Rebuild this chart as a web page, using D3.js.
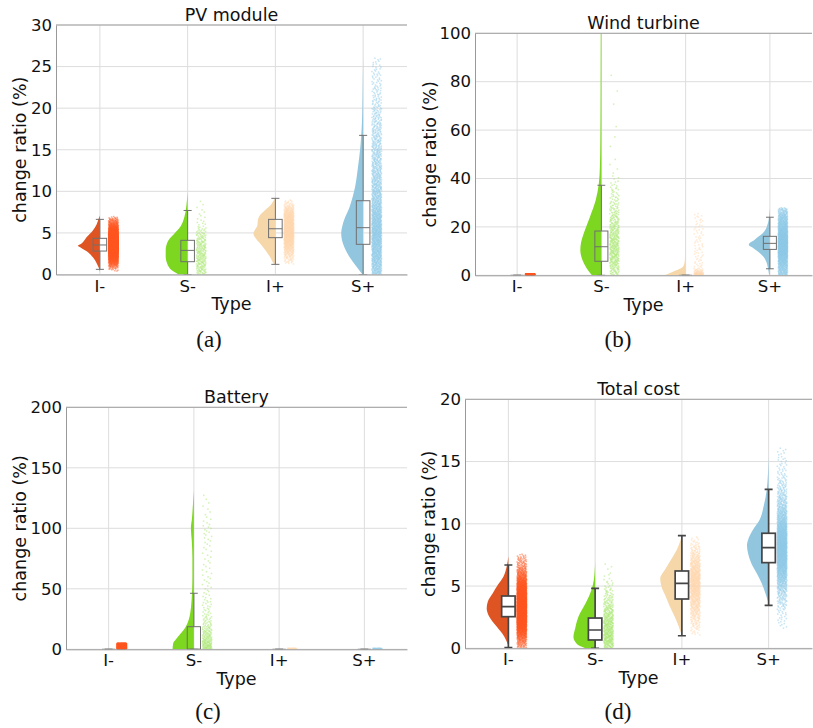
<!DOCTYPE html>
<html>
<head>
<meta charset="utf-8">
<script src="https://cdn.jsdelivr.net/npm/d3@7"></script>
<style>
  body { margin: 0; background: #fff; }
  svg { display: block; }
  text { font-family: "DejaVu Sans", sans-serif; fill: #111; }
</style>
</head>
<body>
<svg id="fig" width="813" height="728"></svg>
<script>
// Scenario types on the x axis
const types = ["I-", "S-", "I+", "S+"];
const violinColors = ["#DE5523", "#7DD620", "#F5D7AA", "#92C6DE"];
const rainColors = ["#FF5722", "#A6E86A", "#FFD7AE", "#8FCCEA"];

// Density profiles: [change ratio (%), relative half-width]
// Box stats: [q1, median, q3, lower whisker, upper whisker]

// (a) PV module
const pvTicks = [0, 5, 10, 15, 20, 25, 30];
const pvViolin = [
  [[0.3,0],[0.8,0.05],[1.2,0.12],[2.0,0.3],[2.8,0.6],[3.2,0.85],[3.45,1.0],[3.7,0.85],[4.5,0.6],[5.3,0.32],[6.0,0.15],[6.6,0.07],[7.1,0]],
  [[0,0.42],[0.5,0.72],[1.3,0.93],[2.1,1.0],[3.0,1.0],[3.5,0.97],[4.1,0.88],[4.6,0.72],[5.0,0.58],[5.5,0.4],[6.2,0.24],[7.0,0.14],[8.0,0.07],[9.0,0.03],[9.8,0]],
  [[1.1,0],[1.4,0.1],[2.0,0.22],[2.8,0.42],[3.5,0.62],[4.3,0.88],[4.9,1.0],[5.4,0.92],[5.9,0.82],[6.5,0.8],[7.2,0.68],[7.8,0.45],[8.4,0.2],[8.9,0.08],[9.2,0]],
  [[0,0.03],[0.9,0.29],[2.1,0.62],[3.3,0.86],[4.2,0.97],[5.0,1.0],[5.8,0.95],[6.6,0.86],[8.1,0.62],[9.5,0.46],[10.6,0.36],[12,0.28],[13.4,0.21],[15,0.14],[16.6,0.09],[18.5,0.05],[20.6,0.03],[23.5,0.015],[26.3,0]]
];
const pvBox = [[2.82, 3.55, 4.35, 0.62, 6.63], [1.54, 2.9, 4.11, 0, 7.7], [4.43, 5.5, 6.63, 1.22, 9.16], [3.63, 5.63, 8.87, 0, 16.73]];
const pvRain = [
  pvViolin[0],
  [[0,0.7],[1,0.9],[2,1.0],[3,0.95],[4,0.8],[5,0.55],[5.6,0.3],[6.5,0.12],[8,0.06],[9.8,0.03]],
  pvViolin[2],
  [[0,0.6],[2,0.8],[5,1.0],[7,0.85],[9,0.6],[12,0.45],[15,0.35],[18,0.25],[21,0.15],[24,0.1],[26.2,0.06]]
];
const pvRainCount = [2500, 240, 900, 1600];

// (b) Wind turbine
const wtTicks = [0, 20, 40, 60, 80, 100];
const wtViolin = [
  [],
  [[0,0.45],[2.9,0.7],[6.3,0.9],[10.5,1.0],[13.2,0.97],[18.7,0.78],[24.2,0.54],[31,0.27],[38,0.12],[45,0.07],[55,0.05],[70,0.04],[85,0.035],[101,0.03]],
  [[0,1.0],[1.5,0.6],[2.9,0.22],[4.3,0.08],[6,0.04],[10,0.025],[20,0.02],[26,0]],
  [[0.2,0.04],[2.9,0.09],[5.6,0.17],[8.4,0.38],[10,0.6],[11.2,0.78],[12.5,1.0],[13.2,0.97],[14.5,0.75],[16,0.54],[17.3,0.35],[18.7,0.22],[20.8,0.12],[22.9,0.06],[25,0.03],[27.7,0]]
];
const wtBox = [[0, 0, 0, 0, 0], [5.8, 11.8, 18.3, 0, 37.2], [0, 0, 0, 0, 0], [10.7, 13.2, 16.1, 2.7, 24]];
const wtRain = [
  [[0,1],[0.6,1]],
  [[0,0.5],[2.9,0.7],[6.3,0.9],[10.5,1.0],[13.2,0.97],[18.7,0.78],[24.2,0.54],[31,0.3],[38,0.15],[42,0.03],[55,0.012],[70,0.01],[85,0.006],[100,0.005]],
  [[0,1.0],[1.0,0.3],[3,0.05],[6,0.04],[15,0.035],[26,0.03]],
  [[0,0.3],[3,0.35],[6,0.5],[9,0.75],[12,1.0],[14,1.0],[17,0.75],[20,0.5],[24,0.35],[28,0.15]]
];
const wtRainCount = [300, 420, 160, 1500];

// (c) Battery
const btTicks = [0, 50, 100, 150, 200];
const btViolin = [
  [],
  [[0,1.0],[5,0.97],[8,0.85],[13,0.62],[18.7,0.38],[24,0.25],[30,0.17],[40,0.11],[50,0.08],[60,0.07],[75,0.07],[90,0.1],[100,0.14],[108,0.09],[118,0.05],[131,0]],
  [],
  []
];
const btBox = [[0, 0, 0, 0, 0], [0, 0, 18.7, 0, 46.3], [0, 0, 0, 0, 0], [0, 0, 0, 0, 0]];
const btRain = [
  [[0,1],[5,1]],
  [[0,1.0],[10,0.6],[20,0.3],[30,0.15],[45,0.08],[60,0.06],[80,0.05],[100,0.08],[110,0.04],[131,0.02]],
  [[0,1],[1,1]],
  [[0,1],[1,1]]
];
const btRainCount = [700, 260, 30, 30];

// (d) Total cost
const tcTicks = [0, 5, 10, 15, 20];
const tcViolin = [
  [[0.2,0],[0.67,0.11],[1.2,0.29],[1.87,0.6],[2.54,0.88],[3.2,1.0],[3.74,0.95],[4.42,0.72],[5.08,0.49],[5.75,0.23],[6.55,0.08],[7.4,0]],
  [[0,0.45],[0.18,0.7],[0.53,0.92],[0.93,1.0],[1.6,0.92],[2.54,0.77],[3.61,0.44],[4.68,0.17],[5.49,0.06],[6.2,0.02],[7.0,0]],
  [[1.0,0],[1.3,0.06],[1.73,0.14],[2.54,0.33],[3.34,0.55],[4.14,0.74],[4.95,0.94],[5.62,1.0],[6.29,0.79],[7.09,0.51],[7.9,0.24],[8.7,0.06],[9.1,0]],
  [[3.6,0],[4.42,0.15],[5.22,0.32],[6.02,0.55],[6.83,0.8],[7.63,0.95],[8.3,1.0],[8.7,0.95],[9.5,0.73],[10.3,0.42],[11.4,0.23],[12.7,0.09],[14.06,0.03],[15.4,0]]
];
const tcBox = [[2.54, 3.34, 4.2, 0.05, 6.69], [0.67, 1.47, 2.43, 0, 4.82], [3.96, 5.22, 6.21, 1.01, 9.05], [6.88, 8.08, 9.24, 3.45, 12.77]];
const tcRain = [
  [[0,0.08],[0.67,0.2],[1.2,0.4],[1.87,0.7],[2.54,0.92],[3.2,1.0],[3.74,0.95],[4.42,0.75],[5.08,0.52],[5.75,0.28],[6.55,0.12],[7.6,0.04]],
  [[0,0.6],[0.5,0.95],[0.93,1.0],[1.6,0.92],[2.54,0.77],[3.61,0.44],[4.68,0.2],[5.49,0.08],[6.2,0.04],[7.3,0.02]],
  [[1.0,0.05],[1.73,0.18],[2.54,0.36],[3.34,0.57],[4.14,0.76],[4.95,0.94],[5.62,1.0],[6.29,0.8],[7.09,0.52],[7.9,0.26],[8.7,0.1],[9.1,0.04]],
  [[1.5,0.02],[3.0,0.06],[4.42,0.2],[5.22,0.36],[6.02,0.58],[6.83,0.82],[7.63,0.95],[8.3,1.0],[9.5,0.75],[10.3,0.48],[11.4,0.28],[12.7,0.14],[14.06,0.06],[16.3,0.02]]
];
const tcRainCount = [2500, 420, 800, 1800];

const panels = [
  { key: "a", title: "PV module", tag: "(a)", ticks: pvTicks, violin: pvViolin, box: pvBox, rain: pvRain, rainN: pvRainCount,
    frame: [56, 407, 25, 274.5], ylabX: 25.5, tagX: 209, tagY: 347, boxStyle: "thin" },
  { key: "b", title: "Wind turbine", tag: "(b)", ticks: wtTicks, violin: wtViolin, box: wtBox, rain: wtRain, rainN: wtRainCount,
    frame: [475, 812, 33.3, 275.3], ylabX: 435.5, tagX: 618, tagY: 347, boxStyle: "thin" },
  { key: "c", title: "Battery", tag: "(c)", ticks: btTicks, violin: btViolin, box: btBox, rain: btRain, rainN: btRainCount,
    frame: [66, 407, 407.3, 649.3], ylabX: 26, tagX: 208, tagY: 719, boxStyle: "thin" },
  { key: "d", title: "Total cost", tag: "(d)", ticks: tcTicks, violin: tcViolin, box: tcBox, rain: tcRain, rainN: tcRainCount,
    frame: [465, 812, 399.3, 648.3], ylabX: 435, tagX: 618, tagY: 719, boxStyle: "bold" }
];

const svg = d3.select("#fig");
const defs = svg.append("defs");

// radical inverse, used to spread dots evenly (Halton sequence)
function radicalInverse(k, base) {
  let f = 1, r = 0;
  while (k > 0) { f /= base; r += f * (k % base); k = Math.floor(k / base); }
  return r;
}

// Dots of the rain sit at evenly spread quantiles of a piecewise-linear profile
function rainPoints(profile, n) {
  if (!profile.length || !n) return [];
  const xs = profile.map(d => d[0]);
  const dens = d3.scaleLinear().domain(xs).range(profile.map(d => d[1])).clamp(true);
  const lo = xs[0], hi = xs[xs.length - 1];
  const steps = 800;
  const grid = d3.range(steps + 1).map(i => lo + (hi - lo) * i / steps);
  const cum = [0];
  for (let i = 1; i <= steps; i++) {
    cum.push(cum[i - 1] + (dens(grid[i - 1]) + dens(grid[i])) / 2);
  }
  const total = cum[steps];
  const inv = d3.scaleLinear().domain(cum).range(grid);
  return d3.range(1, n + 1).map(k => ({ v: inv(total * radicalInverse(k, 2)), u: radicalInverse(k, 3) }));
}

panels.forEach(p => {
  const [x0, x1, yTop, yBot] = p.frame;
  const x = d3.scaleBand().domain(types).range([x0, x1]).padding(0);
  const step = x.bandwidth();
  const cx = t => x(t) + step / 2;
  const y = d3.scaleLinear().domain([0, d3.max(p.ticks)]).range([yBot, yTop]);
  const g = svg.append("g");

  defs.append("clipPath").attr("id", "clip-" + p.key)
    .append("rect").attr("x", x0).attr("y", yTop).attr("width", x1 - x0).attr("height", yBot - yTop);

  // grid
  g.append("g").selectAll("line").data(p.ticks).join("line")
    .attr("x1", x0).attr("x2", x1).attr("y1", d => y(d)).attr("y2", d => y(d))
    .attr("stroke", "#dddddd").attr("stroke-width", 1);
  g.append("g").selectAll("line").data(types).join("line")
    .attr("x1", d => cx(d)).attr("x2", d => cx(d)).attr("y1", yTop).attr("y2", yBot)
    .attr("stroke", "#dddddd").attr("stroke-width", 1);

  const plot = g.append("g").attr("clip-path", `url(#clip-${p.key})`);
  const maxW = 0.25 * step;

  // half violins, flat edge on the category line
  types.forEach((t, i) => {
    const prof = p.violin[i];
    if (!prof.length) return;
    const c = cx(t);
    const area = d3.area().curve(d3.curveMonotoneY)
      .y(d => y(d[0])).x0(d => c - d[1] * maxW).x1(c);
    plot.append("path").attr("d", area(prof)).attr("fill", violinColors[i]).attr("stroke", "none");
  });

  // box plots
  const bold = p.boxStyle === "bold";
  const bStroke = bold ? "#454545" : "#707070";
  const bWidth = bold ? 1.7 : 1;
  const bw = 0.155 * step, capW = 0.092 * step;
  types.forEach((t, i) => {
    const [q1, med, q3, lo, hi] = p.box[i];
    const c = cx(t);
    const bx = plot.append("g").attr("stroke", bStroke).attr("stroke-width", bWidth);
    bx.append("line").attr("x1", c).attr("x2", c).attr("y1", y(q1)).attr("y2", y(lo));
    bx.append("line").attr("x1", c).attr("x2", c).attr("y1", y(q3)).attr("y2", y(hi));
    bx.append("line").attr("x1", c - capW / 2).attr("x2", c + capW / 2).attr("y1", y(lo)).attr("y2", y(lo));
    bx.append("line").attr("x1", c - capW / 2).attr("x2", c + capW / 2).attr("y1", y(hi)).attr("y2", y(hi));
    bx.append("rect").attr("x", c - bw / 2).attr("width", bw)
      .attr("y", y(q3)).attr("height", Math.max(0, y(q1) - y(q3)))
      .attr("fill", bold ? "#ffffff" : "none");
    bx.append("line").attr("x1", c - bw / 2).attr("x2", c + bw / 2).attr("y1", y(med)).attr("y2", y(med));
  });

  // rain strips to the right of each box
  types.forEach((t, i) => {
    const pts = rainPoints(p.rain[i], p.rainN[i]);
    const c = cx(t);
    const left = c + 0.1 * step, span = 0.11 * step;
    plot.append("g").attr("fill", rainColors[i]).attr("fill-opacity", 0.5)
      .selectAll("rect").data(pts).join("rect")
      .attr("x", d => left + d.u * span - 0.75)
      .attr("y", d => y(d.v) - 0.75)
      .attr("width", 1.5).attr("height", 1.5);
  });

  // spines
  g.append("line").attr("x1", x0).attr("x2", x1).attr("y1", yTop).attr("y2", yTop)
    .attr("stroke", "#a0a0a0").attr("stroke-width", 1);

  const yAxis = d3.axisLeft(y).tickValues(p.ticks).tickSize(0).tickPadding(4).tickFormat(d3.format("d"));
  const ya = g.append("g").attr("transform", `translate(${x0},0)`).call(yAxis);
  ya.select(".domain").attr("stroke", "#999999");
  ya.selectAll("text").attr("font-size", 16.5).attr("font-family", "DejaVu Sans").attr("fill", "#111");

  const xAxis = d3.axisBottom(x).tickSize(0).tickPadding(5.3);
  const xa = g.append("g").attr("transform", `translate(0,${yBot})`).call(xAxis);
  xa.select(".domain").attr("stroke", "#999999");
  xa.selectAll("text").attr("font-size", 16.5).attr("font-family", "DejaVu Sans").attr("fill", "#111");

  // labels
  g.append("text").attr("x", (x0 + x1) / 2).attr("y", yTop - 4)
    .attr("text-anchor", "middle").attr("font-size", 17.5).text(p.title);
  g.append("text").attr("x", (x0 + x1) / 2).attr("y", yBot + 35.5)
    .attr("text-anchor", "middle").attr("font-size", 17.5).text("Type");
  g.append("text").attr("transform", `translate(${p.ylabX},${(yTop + yBot) / 2}) rotate(-90)`)
    .attr("text-anchor", "middle").attr("font-size", 17.5).text("change ratio (%)");
  g.append("text").attr("x", p.tagX).attr("y", p.tagY)
    .attr("text-anchor", "middle").attr("font-size", 23)
    .style("font-family", "'Liberation Serif', 'Times New Roman', serif").text(p.tag);
});
</script>
</body>
</html>
